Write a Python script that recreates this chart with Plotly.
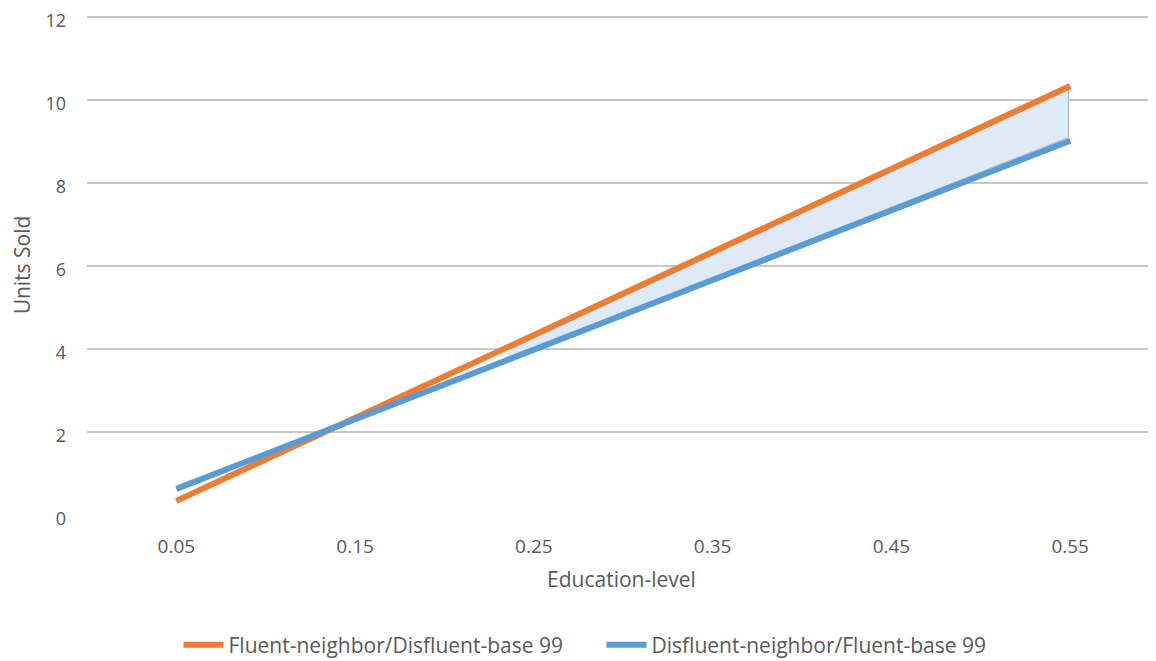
import plotly.graph_objects as go

x_vals = [0.05, 0.55]
orange_vals = [0.34, 10.34]
blue_vals = [0.63, 9.02]

fill_x = [0.237, 0.549, 0.549, 0.233]
fill_y = [4.0, 10.26, 9.1, 3.72]

x_ticks = [0.05, 0.15, 0.25, 0.35, 0.45, 0.55]
x_tick_labels = ["0.05", "0.15", "0.25", "0.35", "0.45", "0.55"]
y_ticks = [0, 2, 4, 6, 8, 10, 12]

name_orange = "Fluent-neighbor/Disfluent-base 99"
name_blue = "Disfluent-neighbor/Fluent-base 99"

fig = go.Figure()
fig.add_trace(go.Scatter(x=fill_x, y=fill_y, fill="toself", mode="lines",
                         fillcolor="#DEEAF6", line=dict(color="#A9B4BF", width=1),
                         showlegend=False, hoverinfo="skip"))
fig.add_trace(go.Scatter(x=x_vals, y=orange_vals, mode="lines", name=name_orange,
                         line=dict(color="#ED7D31", width=6)))
fig.add_trace(go.Scatter(x=x_vals, y=blue_vals, mode="lines", name=name_blue,
                         line=dict(color="#5B9BD5", width=6)))

font_family = "Open Sans, Liberation Sans, sans-serif"
fig.update_layout(
    width=1148, height=653,
    margin=dict(l=79, r=0, t=7, b=146),
    paper_bgcolor="white", plot_bgcolor="white",
    font=dict(family=font_family, size=19, color="#595959"),
    xaxis=dict(range=[0, 0.598], tickvals=x_ticks, ticktext=x_tick_labels,
               showgrid=False, zeroline=False, showline=False, automargin=False,
               ticks="", ticklabelstandoff=18, tickfont=dict(size=19),
               title=dict(text="Education-level", font=dict(size=21), standoff=14)),
    yaxis=dict(range=[0, 12.05], tickvals=y_ticks, showgrid=True,
               gridcolor="#C8C8C8", gridwidth=1.5, zeroline=False, automargin=False,
               ticks="", ticklabelstandoff=20, tickfont=dict(size=18),
               ticklabeloverflow="allow", ticklabelshift=4,
               title=dict(text="Units Sold", font=dict(size=21), standoff=12)),
    legend=dict(orientation="h", xref="container", x=0.517, xanchor="center",
                yref="container", y=0.0245, yanchor="middle",
                font=dict(size=21, color="#595959"), itemwidth=40,
                entrywidth=368, tracegroupgap=0),
)
fig.write_html("out.html")
